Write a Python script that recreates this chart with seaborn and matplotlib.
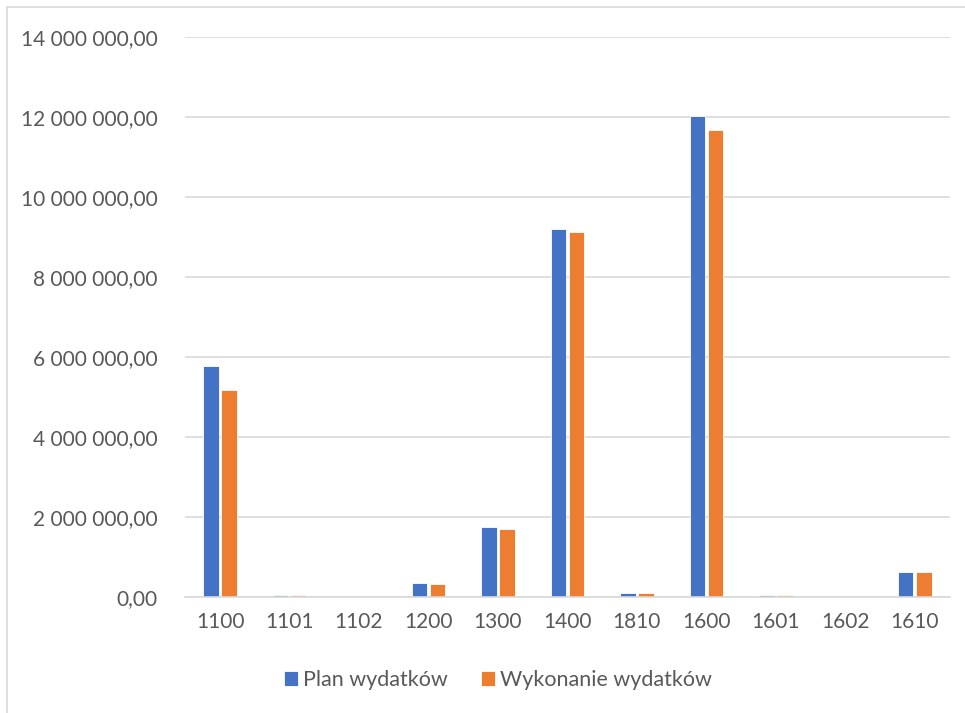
import pandas as pd
import matplotlib.pyplot as plt
import seaborn as sns
from matplotlib.ticker import FuncFormatter
from matplotlib.patches import Rectangle

categories = ["1100", "1101", "1102", "1200", "1300", "1400", "1810", "1600", "1601", "1602", "1610"]
plan = [5770000, 40000, 0, 340000, 1735000, 9200000, 90000, 12020000, 50000, 0, 620000]
wykonanie = [5170000, 35000, 0, 330000, 1700000, 9110000, 88000, 11660000, 48000, 0, 615000]
series_names = ["Plan wydatków", "Wykonanie wydatków"]

df = pd.DataFrame({
    "kategoria": categories * 2,
    "wartosc": plan + wykonanie,
    "seria": [series_names[0]] * len(categories) + [series_names[1]] * len(categories),
})

sns.set_style("white")
plt.rcParams["font.family"] = ["Lato", "DejaVu Sans"]
text_color = "#595959"

fig = plt.figure(figsize=(9.65, 7.13), dpi=100)
ax = fig.add_axes([0.192, 0.163, 0.792, 0.7855])

sns.barplot(data=df, x="kategoria", y="wartosc", hue="seria", order=categories,
            palette=["#4472C4", "#ED7D31"], saturation=1, width=0.52, gap=0.15,
            edgecolor="white", linewidth=0.6, ax=ax)

ax.set_ylim(0, 14000000)
ax.set_yticks(range(0, 14000001, 2000000))
ax.yaxis.set_major_formatter(FuncFormatter(lambda v, p: f"{v:,.2f}".replace(",", " ").replace(".", ",")))
ax.grid(axis="y", color="#D9D9D9", linewidth=1.2)
ax.set_axisbelow(True)
for s in ["top", "right", "left"]:
    ax.spines[s].set_visible(False)
ax.spines["bottom"].set_color("#D9D9D9")
ax.spines["bottom"].set_linewidth(1.2)
ax.tick_params(axis="both", length=0, labelsize=15, colors=text_color)
ax.tick_params(axis="y", pad=20)
ax.tick_params(axis="x", pad=11)
ax.set_xlabel("")
ax.set_ylabel("")

handles, labels = ax.get_legend_handles_labels()
ax.get_legend().remove()
fig.legend(handles, labels, loc="center", bbox_to_anchor=(0.516, 0.046), ncol=2,
           frameon=False, fontsize=15.5, labelcolor=text_color,
           handlelength=0.65, handleheight=0.65, handletextpad=0.25, columnspacing=1.5)

fig.patches.append(Rectangle((0.0075, -0.1), 1.2, 1.09, transform=fig.transFigure,
                             fill=False, edgecolor="#D9D9D9", linewidth=1.2))

plt.savefig("out.png", dpi=100)
